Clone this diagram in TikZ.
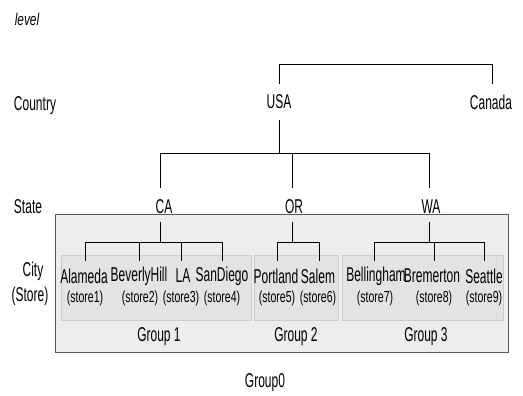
\documentclass[tikz,border=0pt]{standalone}
\usepackage{fontspec}
\setmainfont[FakeStretch=0.6]{Liberation Sans}
\newfontfamily\storefont[FakeStretch=0.66]{Liberation Sans}
\newfontfamily\levfont[FakeStretch=0.7]{Liberation Sans}
\begin{document}
\begin{tikzpicture}[x=1pt,y=-1pt,
  lbl/.style={inner sep=0pt,font=\fontsize{20}{20}\selectfont},
  sto/.style={inner sep=0pt,font=\storefont\fontsize{16}{16}\selectfont},
  conn/.style={draw=black,line width=0.9pt},
  outerbox/.style={draw=black!65,fill=black!7,line width=0.9pt},
  innerbox/.style={draw=black!20,fill=black!11,line width=0.7pt}]
\useasboundingbox (0,0) rectangle (523,396);
% boxes
\draw[outerbox] (55,214) rectangle (508,352);
\draw[innerbox] (61,255) rectangle (251,320);
\draw[innerbox] (254,255) rectangle (338,320);
\draw[innerbox] (342,255) rectangle (503,320);
% level labels
\node[lbl,font=\levfont\fontsize{17}{17}\selectfont\itshape] (lev) at (27,19) {level};
\node[lbl] (lcountry) at (35,106) {Country};
\node[lbl] (lstate) at (28,207) {State};
\node[lbl] (lcity) at (33,271) {City};
\node[lbl] (lstore) at (30,296) {(Store)};
% country
\node[lbl] (usa) at (279,102) {USA};
\node[lbl] (canada) at (491,102) {Canada};
% states
\node[lbl] (ca) at (164,207) {CA};
\node[lbl] (or) at (294,207) {OR};
\node[lbl] (wa) at (431,207) {WA};
% cities
\node[lbl] (c1) at (84,276) {Alameda};
\node[lbl] (c2) at (139,276) {BeverlyHill};
\node[lbl] (c3) at (183,276) {LA};
\node[lbl] (c4) at (222,276) {SanDiego};
\node[lbl] (c5) at (276,276) {Portland};
\node[lbl] (c6) at (318,276) {Salem};
\node[lbl] (c7) at (376,276) {Bellingham};
\node[lbl] (c8) at (432,276) {Bremerton};
\node[lbl] (c9) at (484,276) {Seattle};
\node[sto] (s1) at (85,298) {(store1)};
\node[sto] (s2) at (140,298) {(store2)};
\node[sto] (s3) at (181,298) {(store3)};
\node[sto] (s4) at (222,298) {(store4)};
\node[sto] (s5) at (277,298) {(store5)};
\node[sto] (s6) at (318,298) {(store6)};
\node[sto] (s7) at (375,298) {(store7)};
\node[sto] (s8) at (434,298) {(store8)};
\node[sto] (s9) at (484,298) {(store9)};
% groups
\node[lbl] (g1) at (159,337) {Group 1};
\node[lbl] (g2) at (296,337) {Group 2};
\node[lbl] (g3) at (426,337) {Group 3};
\node[lbl] (g0) at (265,383) {Group0};
% connectors
\draw[conn] (279,84) |- (492,64) -- (492,84);
\draw[conn] (279,120) -- (279,153);
\draw[conn] (160,188) |- (429,153) -- (429,188);
\draw[conn] (292,153) -- (292,188);
\draw[conn] (160,222) -- (160,242);
\draw[conn] (85,261) |- (222,242) -- (222,261);
\draw[conn] (139,242) -- (139,261);
\draw[conn] (181,242) -- (181,261);
\draw[conn] (292,222) -- (292,242);
\draw[conn] (277,261) |- (319,242) -- (319,261);
\draw[conn] (429,222) -- (429,242);
\draw[conn] (374,261) |- (484,242) -- (484,261);
\draw[conn] (434,242) -- (434,261);
\end{tikzpicture}
\end{document}
